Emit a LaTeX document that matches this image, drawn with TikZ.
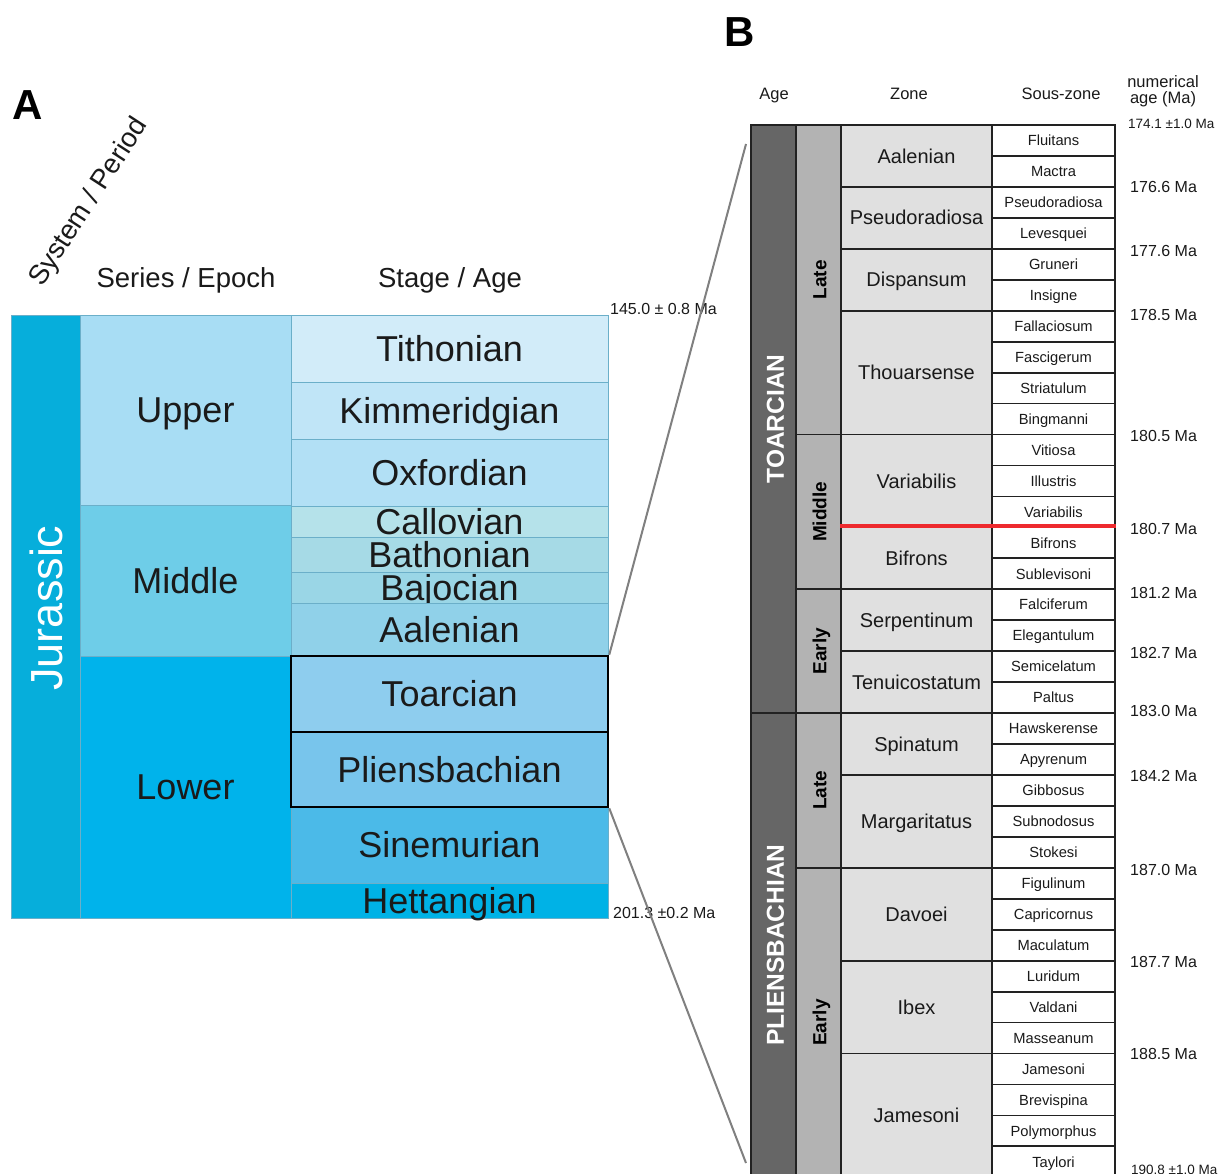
\documentclass[tikz,border=0pt]{standalone}
\usepackage{fontspec}
\setmainfont{Liberation Sans}
\definecolor{jur}{HTML}{06AEDB}
\definecolor{upper}{HTML}{A8DDF4}
\definecolor{middle}{HTML}{6ECDE8}
\definecolor{lower}{HTML}{00B3EB}
\definecolor{tith}{HTML}{D2ECF9}
\definecolor{kimm}{HTML}{C0E5F7}
\definecolor{oxf}{HTML}{B2E0F5}
\definecolor{call}{HTML}{B5E2EA}
\definecolor{bath}{HTML}{A6DAE6}
\definecolor{baj}{HTML}{9AD6E6}
\definecolor{aal}{HTML}{90D1E9}
\definecolor{toa}{HTML}{8ECDEE}
\definecolor{pli}{HTML}{78C5EC}
\definecolor{sin}{HTML}{4BBAE8}
\definecolor{het}{HTML}{00B2E6}
\definecolor{cellline}{HTML}{6BAFC9}
\definecolor{txt}{HTML}{1A1A1A}
\definecolor{dgray}{HTML}{666666}
\definecolor{mgray}{HTML}{B3B3B3}
\definecolor{lgray}{HTML}{E0E0E0}
\definecolor{bline}{HTML}{222222}
\definecolor{conngray}{HTML}{808080}
\definecolor{redline}{HTML}{EE2A2E}
\begin{document}
\begin{tikzpicture}[x=1pt,y=-1pt,
  cellA/.style={draw=cellline, line width=0.8pt, inner sep=0pt, text=txt},
  fA/.style={font=\fontsize{36}{36}\selectfont, text height=25.8pt, text depth=0pt},
  hdrA/.style={font=\fontsize{27.5}{28}\selectfont, text height=19.7pt, text depth=0pt, text=txt},
  boldbig/.style={font=\bfseries\fontsize{42}{42}\selectfont, text height=30pt, text depth=0pt, inner sep=0pt},
  smallage/.style={font=\fontsize{16}{16}\selectfont, text height=11.5pt, text depth=0pt, inner sep=0pt, anchor=west, text=txt},
  tinyage/.style={font=\fontsize{13.5}{13.5}\selectfont, text height=9.7pt, text depth=0pt, inner sep=0pt, anchor=west, text=txt},
  hdrB/.style={font=\fontsize{16.5}{16.5}\selectfont, text height=11.8pt, text depth=0pt, inner sep=0pt, text=txt},
  bcell/.style={draw=bline, line width=1.8pt, inner sep=0pt},
  zonetxt/.style={font=\fontsize{20}{20}\selectfont, text height=14.3pt, text depth=0pt, text=txt},
  soustxt/.style={font=\fontsize{14.7}{14.7}\selectfont, text height=10.5pt, text depth=0pt, text=txt},
  stagetxt/.style={font=\bfseries\fontsize{24.5}{24.5}\selectfont, text height=17.5pt, text depth=0pt, text=white, inner sep=0pt, rotate=90},
  subtxt/.style={font=\bfseries\fontsize{19}{19}\selectfont, text height=13.6pt, text depth=0pt, text=black, inner sep=0pt, rotate=90},
  conn/.style={draw=conngray, line width=2pt}
]
\useasboundingbox[fill=white] (0,0) rectangle (1226,1174);

% ---------------- Panel A ----------------
\node[boldbig] (lblA) at (28,105) {A};
\node[hdrA, rotate=57, inner sep=0pt] (hsys) at (87,201) {System / Period};
\node[hdrA, inner sep=0pt] (hser) at (186,278) {Series / Epoch};
\node[hdrA, inner sep=0pt] (hsta) at (450,278) {Stage / Age};

% System column
\node[cellA, fill=jur, minimum width=69pt, minimum height=603pt] (jur) at (45.5,616.5) {};
\node[font=\fontsize{45}{45}\selectfont, text height=32.2pt, text depth=0pt, text=white, rotate=90, inner sep=0pt] (jurt) at (46,608) {Jurassic};

% Series column
\node[cellA, fill=upper, fA, minimum width=211pt, minimum height=190pt] (upp) at (185.5,410) {Upper};
\node[cellA, fill=middle, fA, minimum width=211pt, minimum height=151pt] (mid) at (185.5,580.5) {Middle};
\node[cellA, fill=lower, fA, minimum width=211pt, minimum height=262pt] (low) at (185.5,787) {Lower};

% Stage column
\node[cellA, fill=tith, fA, minimum width=317pt, minimum height=67pt] (tith) at (449.5,348.5) {Tithonian};
\node[cellA, fill=kimm, fA, minimum width=317pt, minimum height=57pt] (kimm) at (449.5,410.5) {Kimmeridgian};
\node[cellA, fill=oxf, fA, minimum width=317pt, minimum height=67pt] (oxf) at (449.5,472.5) {Oxfordian};
\node[cellA, fill=call, fA, minimum width=317pt, minimum height=31pt] (call) at (449.5,521.5) {Callovian};
\node[cellA, fill=bath, fA, minimum width=317pt, minimum height=35pt] (bath) at (449.5,554.5) {Bathonian};
\node[cellA, fill=baj, fA, minimum width=317pt, minimum height=31pt] (baj) at (449.5,587.5) {Bajocian};
\node[cellA, fill=aal, fA, minimum width=317pt, minimum height=53pt] (aal) at (449.5,630) {Aalenian};
\node[cellA, fill=sin, fA, minimum width=317pt, minimum height=76pt] (sin) at (449.5,845) {Sinemurian};
\node[cellA, fill=het, fA, minimum width=317pt, minimum height=35pt] (het) at (449.5,900.5) {Hettangian};
\node[cellA, draw=black, line width=2.5pt, fill=toa, fA, minimum width=317pt, minimum height=76pt] (toa) at (449.5,694) {Toarcian};
\node[cellA, draw=black, line width=2.5pt, fill=pli, fA, minimum width=317pt, minimum height=75pt] (pli) at (449.5,769.5) {Pliensbachian};

\node[smallage] (ageTop) at (610,309) {145.0 ± 0.8 Ma};
\node[smallage] (ageBot) at (613,913) {201.3 ±0.2 Ma};

% ---------------- Panel B ----------------
\node[boldbig] (lblB) at (740,32) {B};
\node[hdrB] (hage) at (774,94) {Age};
\node[hdrB] (hzone) at (909,94) {Zone};
\node[hdrB] (hsous) at (1061,94) {Sous-zone};
\node[font=\fontsize{16.5}{15.5}\selectfont, align=center, inner sep=0pt, text=txt] (hnum) at (1163,91) {numerical\\age (Ma)};

% stage column
\foreach \n/\lab/\s/\c in {st1/TOARCIAN/1/19, st2/PLIENSBACHIAN/20/15}{
  \pgfmathsetmacro\cy{125+(\s-1+\c/2)*30.95}
  \pgfmathsetmacro\hh{\c*30.95}
  \node[bcell, fill=dgray, minimum width=45pt, minimum height=\hh pt] (\n) at (773.5,\cy) {};
  \node[stagetxt] (\n t) at (775,\cy) {\lab};
}
% substage column
\foreach \n/\lab/\s/\c in {sub1/Late/1/10, sub2/Middle/11/5, sub3/Early/16/4, sub4/Late/20/5, sub5/Early/25/10}{
  \pgfmathsetmacro\cy{125+(\s-1+\c/2)*30.95}
  \pgfmathsetmacro\hh{\c*30.95}
  \node[bcell, fill=mgray, minimum width=45pt, minimum height=\hh pt] (\n) at (818.5,\cy) {};
  \node[subtxt] (\n t) at (819.5,\cy) {\lab};
}
% zone column
\foreach \lab/\s/\c in {Aalenian/1/2, Pseudoradiosa/3/2, Dispansum/5/2, Thouarsense/7/4, Variabilis/11/3, Bifrons/14/2, Serpentinum/16/2, Tenuicostatum/18/2, Spinatum/20/2, Margaritatus/22/3, Davoei/25/3, Ibex/28/3, Jamesoni/31/4}{
  \pgfmathsetmacro\cy{125+(\s-1+\c/2)*30.95}
  \pgfmathsetmacro\hh{\c*30.95}
  \node[bcell, fill=lgray, zonetxt, minimum width=151pt, minimum height=\hh pt] (z\s) at (916.5,\cy) {\lab};
}
% sous-zone column
\foreach \lab [count=\i] in {Fluitans, Mactra, Pseudoradiosa, Levesquei, Gruneri, Insigne, Fallaciosum, Fascigerum, Striatulum, Bingmanni, Vitiosa, Illustris, Variabilis, Bifrons, Sublevisoni, Falciferum, Elegantulum, Semicelatum, Paltus, Hawskerense, Apyrenum, Gibbosus, Subnodosus, Stokesi, Figulinum, Capricornus, Maculatum, Luridum, Valdani, Masseanum, Jamesoni, Brevispina, Polymorphus, Taylori}{
  \pgfmathsetmacro\cy{125+(\i-0.5)*30.95}
  \node[bcell, fill=white, soustxt, minimum width=123pt, minimum height=30.95pt] (s\i) at (1053.5,\cy) {\lab};
}

% red boundary
\draw[redline, line width=4pt] (z14.north west) -- (s14.north east);

% numerical ages
\node[tinyage] (n0) at (1128,124) {174.1 ±1.0 Ma};
\node[smallage] (n1) at (1130,187) {176.6 Ma};
\node[smallage] (n2) at (1130,251) {177.6 Ma};
\node[smallage] (n3) at (1130,315) {178.5 Ma};
\node[smallage] (n4) at (1130,436) {180.5 Ma};
\node[smallage] (n5) at (1130,529) {180.7 Ma};
\node[smallage] (n6) at (1130,593) {181.2 Ma};
\node[smallage] (n7) at (1130,653) {182.7 Ma};
\node[smallage] (n8) at (1130,711) {183.0 Ma};
\node[smallage] (n9) at (1130,776) {184.2 Ma};
\node[smallage] (n10) at (1130,870) {187.0 Ma};
\node[smallage] (n11) at (1130,962) {187.7 Ma};
\node[smallage] (n12) at (1130,1054) {188.5 Ma};
\node[tinyage] (n13) at (1131,1170) {190.8 ±1.0 Ma};

% connectors
\coordinate (cT) at (746,144);
\coordinate (cB) at (746,1163);
\draw[conn] (toa.north east) -- (cT);
\draw[conn] (pli.south east) -- (cB);
\end{tikzpicture}
\end{document}
